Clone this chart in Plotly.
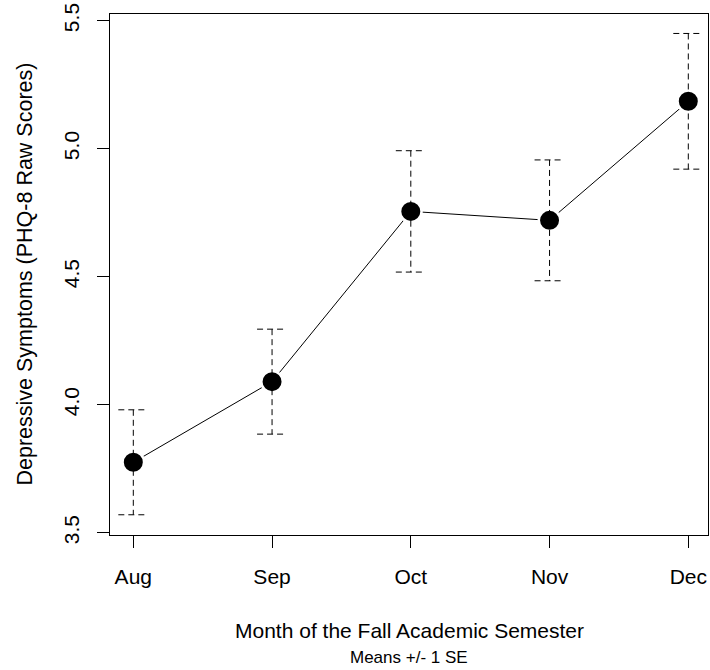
import plotly.graph_objects as go

# Monthly means of PHQ-8 raw scores with their standard errors
months = ["Aug", "Sep", "Oct", "Nov", "Dec"]
month_pos = [1, 2, 3, 4, 5]
means = [3.775, 4.09, 4.755, 4.72, 5.185]
se = [0.205, 0.205, 0.237, 0.236, 0.265]

y_ticks = [3.5, 4.0, 4.5, 5.0, 5.5]
y_tick_text = ["3.5", "4.0", "4.5", "5.0", "5.5"]

CAP = 0.108  # half-width of the error-bar caps, in x-axis units
FONT = "Liberation Sans, Arial, sans-serif"

# Dashed error bars: top cap, stem from mean-SE to mean+SE, bottom cap
eb_x, eb_y = [], []
for x, m, s in zip(month_pos, means, se):
    lo, hi = m - s, m + s
    eb_x += [x - CAP, x + CAP, None, x, x, None, x - CAP, x + CAP, None]
    eb_y += [hi, hi, None, hi, lo, None, lo, lo, None]

fig = go.Figure()

# connecting line
fig.add_trace(go.Scatter(
    x=month_pos, y=means, mode="lines",
    line=dict(color="black", width=1), hoverinfo="skip", showlegend=False,
))
# points, with a white ring that opens a gap in the connecting line
fig.add_trace(go.Scatter(
    x=month_pos, y=means, mode="markers",
    marker=dict(size=21.5, color="black", line=dict(color="white", width=2.5)),
    showlegend=False,
))
# dashed error bars
fig.add_trace(go.Scatter(
    x=eb_x, y=eb_y, mode="lines",
    line=dict(color="black", width=1, dash="6px,4px"),
    hoverinfo="skip", showlegend=False,
))

fig.update_layout(
    width=710, height=670,
    margin=dict(l=110, r=2, t=14, b=135),
    paper_bgcolor="white", plot_bgcolor="white",
    font=dict(family=FONT, color="black", size=21),
    xaxis=dict(
        range=[0.832, 5.142], tickvals=month_pos, ticktext=months,
        showgrid=False, zeroline=False,
        showline=True, linecolor="black", linewidth=1, mirror=True,
        ticks="outside", ticklen=12, tickcolor="black", tickwidth=1,
        tickfont=dict(size=21), ticklabelstandoff=11,
    ),
    yaxis=dict(
        range=[3.491, 5.526], tickvals=y_ticks, ticktext=y_tick_text,
        tickangle=-90,
        showgrid=False, zeroline=False,
        showline=True, linecolor="black", linewidth=1, mirror=True,
        ticks="outside", ticklen=12, tickcolor="black", tickwidth=1,
        tickfont=dict(size=21), ticklabelstandoff=10,
    ),
    annotations=[
        dict(text="Month of the Fall Academic Semester", xref="paper", yref="paper",
             x=0.5, y=0, yshift=-95, showarrow=False, yanchor="middle",
             font=dict(size=21)),
        dict(text="Means +/- 1 SE", xref="paper", yref="paper",
             x=0.5, y=0, yshift=-122, showarrow=False, yanchor="middle",
             font=dict(size=17)),
        dict(text="Depressive Symptoms (PHQ-8 Raw Scores)", xref="paper", yref="paper",
             x=0, xshift=-86, y=0.5, textangle=-90, showarrow=False,
             xanchor="center", font=dict(size=21.5)),
    ],
)

fig.write_html("out.html")
